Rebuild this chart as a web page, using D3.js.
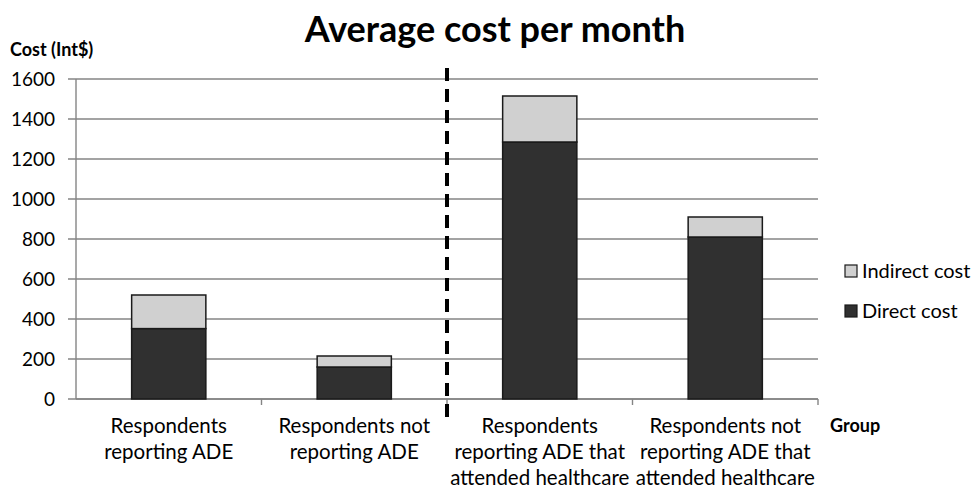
<!DOCTYPE html>
<html lang="en">
<head>
<meta charset="UTF-8">
<title>Average cost per month</title>
<script src="https://d3js.org/d3.v7.min.js"></script>
<style>
    body { margin: 0; background: #fff; }
    svg text { font-family: Lato, "Open Sans", sans-serif; fill: #000; }
    .title { font-size: 36px; font-weight: bold; }
    .axis-title { font-size: 18px; font-weight: bold; }
    .tick-label { font-size: 19px; }
    .cat-label { font-size: 20.5px; }
    .legend-label { font-size: 20px; }
</style>
</head>
<body>
<svg width="976" height="490"></svg>
<script>
    // Data
    const groups = ["g1", "g2", "g3", "g4"];
    const groupLabels = [
        ["Respondents", "reporting ADE"],
        ["Respondents not", "reporting ADE"],
        ["Respondents", "reporting ADE that", "attended healthcare"],
        ["Respondents not", "reporting ADE that", "attended healthcare"]
    ];
    const directCost = [352, 160, 1285, 810];
    const indirectCost = [168, 55, 230, 100];
    const yTicks = [0, 200, 400, 600, 800, 1000, 1200, 1400, 1600];

    const svg = d3.select("svg");
    const plotLeft = 76, plotRight = 818, plotTop = 79, plotBottom = 399;

    const x = d3.scaleBand().domain(groups).range([plotLeft, plotRight]).paddingInner(0.6).paddingOuter(0.3);
    const xb = d3.scaleBand().domain(groups).range([plotLeft, plotRight]);
    const y = d3.scaleLinear().domain([0, 1600]).range([plotBottom, plotTop]);

    // Gridlines + tick labels
    svg.append("g").selectAll("line").data(yTicks).enter().append("line")
        .attr("x1", plotLeft - 8).attr("x2", plotRight)
        .attr("y1", d => y(d)).attr("y2", d => y(d))
        .attr("stroke", "#858585").attr("stroke-width", 1.4);
    svg.append("g").selectAll("text").data(yTicks).enter().append("text")
        .attr("class", "tick-label")
        .attr("x", 55).attr("y", d => y(d) + 7)
        .attr("text-anchor", "end")
        .text(d => d);

    // Y axis line
    svg.append("line").attr("x1", plotLeft).attr("x2", plotLeft).attr("y1", plotTop).attr("y2", plotBottom)
        .attr("stroke", "#858585").attr("stroke-width", 1.4);

    // X axis line and ticks
    svg.append("line").attr("x1", plotLeft).attr("x2", plotRight).attr("y1", plotBottom).attr("y2", plotBottom)
        .attr("stroke", "#858585").attr("stroke-width", 1.4);
    svg.append("g").selectAll("line").data(groups).enter().append("line")
        .attr("x1", d => xb(d) + xb.bandwidth()).attr("x2", d => xb(d) + xb.bandwidth())
        .attr("y1", plotBottom).attr("y2", plotBottom + 6)
        .attr("stroke", "#858585").attr("stroke-width", 1.4);

    // Stacked bars
    const bars = svg.append("g");
    groups.forEach((g, i) => {
        bars.append("rect")
            .attr("x", x(g)).attr("width", x.bandwidth())
            .attr("y", y(directCost[i])).attr("height", y(0) - y(directCost[i]))
            .attr("fill", "#303030").attr("stroke", "#1a1a1a").attr("stroke-width", 1.5);
        bars.append("rect")
            .attr("x", x(g)).attr("width", x.bandwidth())
            .attr("y", y(directCost[i] + indirectCost[i])).attr("height", y(directCost[i]) - y(directCost[i] + indirectCost[i]))
            .attr("fill", "#d0d0d0").attr("stroke", "#1a1a1a").attr("stroke-width", 1.5);
    });

    // Dashed divider
    const divX = xb("g2") + xb.bandwidth();
    svg.append("line").attr("x1", divX).attr("x2", divX).attr("y1", 68).attr("y2", 420)
        .attr("stroke", "#000").attr("stroke-width", 4).attr("stroke-dasharray", "13,8");

    // Category labels
    groups.forEach((g, i) => {
        const t = svg.append("text").attr("class", "cat-label")
            .attr("x", xb(g) + xb.bandwidth() / 2).attr("y", 433)
            .attr("text-anchor", "middle");
        groupLabels[i].forEach((l, j) => {
            t.append("tspan").attr("x", xb(g) + xb.bandwidth() / 2).attr("dy", j === 0 ? 0 : 26).text(l);
        });
    });

    // Titles
    svg.append("text").attr("class", "title").attr("x", 495).attr("y", 42)
        .attr("text-anchor", "middle").text("Average cost per month");
    svg.append("text").attr("class", "axis-title").attr("x", 10).attr("y", 56).text("Cost (Int$)");
    svg.append("text").attr("class", "axis-title").attr("x", 830).attr("y", 432).text("Group");

    // Legend
    const legend = [
        { label: "Indirect cost", color: "#d0d0d0" },
        { label: "Direct cost", color: "#303030" }
    ];
    const lg = svg.append("g").selectAll("g").data(legend).enter().append("g")
        .attr("transform", (d, i) => `translate(845,${265 + i * 40})`);
    lg.append("rect").attr("width", 12).attr("height", 12)
        .attr("fill", d => d.color).attr("stroke", "#1a1a1a").attr("stroke-width", 1.2);
    lg.append("text").attr("class", "legend-label").attr("x", 17).attr("y", 13).text(d => d.label);
</script>
</body>
</html>
